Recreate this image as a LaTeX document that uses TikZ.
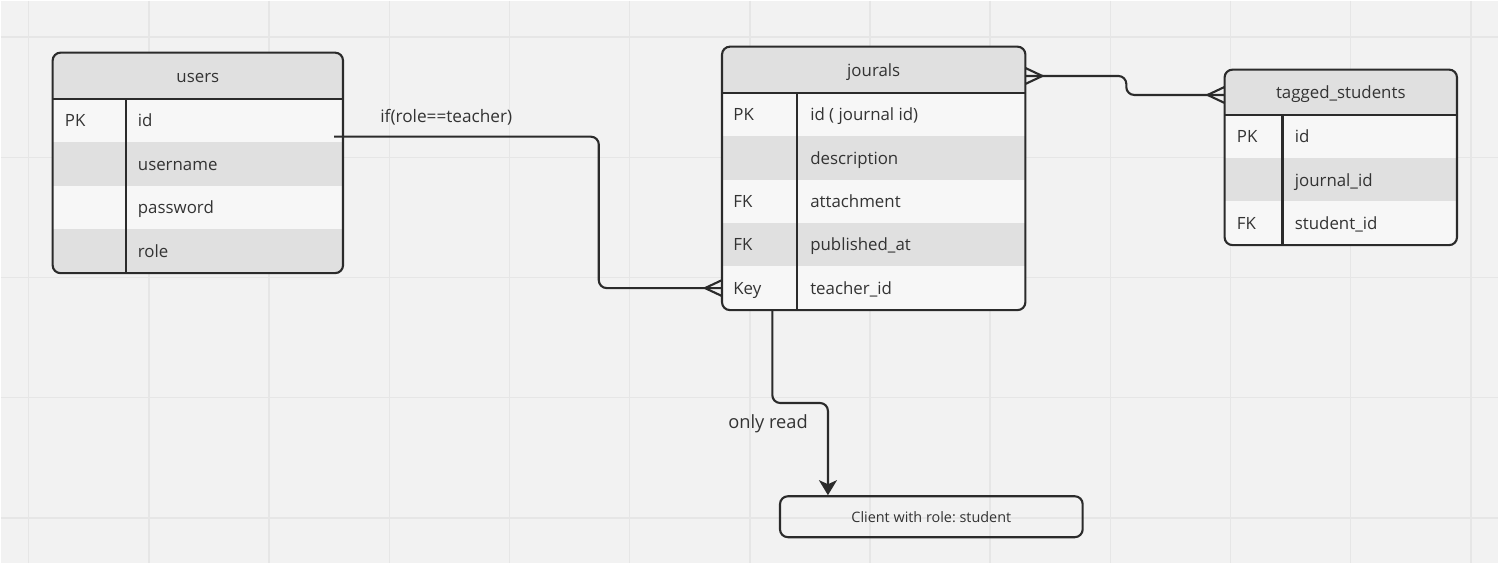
\documentclass[tikz,border=0pt]{standalone}
\usepackage{fontspec}
\setmainfont{Open Sans}
\frenchspacing
\usetikzlibrary{arrows.meta,positioning}
\definecolor{canvas}{HTML}{F2F2F2}
\definecolor{gridc}{HTML}{E6E6E6}
\definecolor{hdfill}{HTML}{E0E0E0}
\definecolor{rowl}{HTML}{F7F7F7}
\definecolor{rowd}{HTML}{E0E0E0}
\definecolor{ink}{HTML}{2B2B2B}
\definecolor{txtc}{HTML}{333333}

\begin{document}
\begin{tikzpicture}[x=0.02cm,y=-0.02cm,
	hd/.style={anchor=north west, fill=hdfill, inner sep=0pt, minimum height=0.92cm, text=txtc, font=\fontsize{9.6}{11}\selectfont, text height=1.5ex, text depth=0.1em},
	light/.style={anchor=north west, fill=rowl, inner sep=0pt, minimum height=0.87cm},
	dark/.style={light, fill=rowd},
	key/.style={inner sep=0pt, text=txtc, font=\fontsize{9.6}{11}\selectfont, text height=1.5ex, text depth=0.1em},
	field/.style={key},
	lbl/.style={inner sep=0pt, text=txtc, font=\fontsize{9.8}{11}\selectfont, text height=1.5ex, text depth=0.1em},
	border/.style={draw=ink, line width=1.2pt},
	rel/.style={draw=ink, line width=1.2pt, rounded corners=4.5pt},
	client/.style={draw=ink, line width=1.2pt, rounded corners=4.5pt, text=txtc, font=\fontsize{8.2}{10}\selectfont},
	crow/.pic={\draw[ink, line width=1.2pt] (0,-8) -- (-17,0) -- (0,8);}]
	\fill[canvas] (0,0) rectangle (1499,563);
	\foreach \i in {0,...,12} \draw[gridc, line width=0.8pt] ({28+120.3*\i},0) -- ({28+120.3*\i},563);
	\foreach \j in {0,...,4} \draw[gridc, line width=0.8pt] (0,{36.5+120.3*\j}) -- (1499,{36.5+120.3*\j});

	\begin{scope}
		\clip[rounded corners=4.5pt] (52,52) rectangle (342,272);
		\node[hd, minimum width=5.8cm] (users) at (52,52) {users};
		\node[light, minimum width=5.8cm] (users-r1) at (52,98) {};
		\node[dark, minimum width=5.8cm] (users-r2) at (52,141.5) {};
		\node[light, minimum width=5.8cm] (users-r3) at (52,185) {};
		\node[dark, minimum width=5.8cm] (users-r4) at (52,228.5) {};
	\end{scope}
	\node[key, right=0.24cm of users-r1.west] (users-k1) {PK};
	\node[field, right=1.7cm of users-r1.west] (users-f1) {id};
	\node[field, right=1.7cm of users-r2.west] (users-f2) {username};
	\node[field, right=1.7cm of users-r3.west] (users-f3) {password};
	\node[field, right=1.7cm of users-r4.west] (users-f4) {role};
	\draw[border] (users.south west) -- (users.south east);
	\draw[border] ([xshift=1.46cm]users.south west) -- ([xshift=1.46cm]users-r4.south west);
	\draw[border, rounded corners=4.5pt] (users.north west) rectangle (users-r4.south east);

	\begin{scope}
		\clip[rounded corners=4.5pt] (722,46) rectangle (1025,309);
		\node[hd, minimum width=6.06cm] (jourals) at (722,46) {jourals};
		\node[light, minimum width=6.06cm, minimum height=0.868cm] (jourals-r1) at (722,92) {};
		\node[dark, minimum width=6.06cm, minimum height=0.868cm] (jourals-r2) at (722,135.4) {};
		\node[light, minimum width=6.06cm, minimum height=0.868cm] (jourals-r3) at (722,178.8) {};
		\node[dark, minimum width=6.06cm, minimum height=0.868cm] (jourals-r4) at (722,222.2) {};
		\node[light, minimum width=6.06cm, minimum height=0.868cm] (jourals-r5) at (722,265.6) {};
	\end{scope}
	\node[key, right=0.22cm of jourals-r1.west] (jourals-k1) {PK};
	\node[key, right=0.22cm of jourals-r3.west] (jourals-k3) {FK};
	\node[key, right=0.22cm of jourals-r4.west] (jourals-k4) {FK};
	\node[key, right=0.22cm of jourals-r5.west] (jourals-k5) {Key};
	\node[field, right=1.76cm of jourals-r1.west] (jourals-f1) {id ( journal id)};
	\node[field, right=1.76cm of jourals-r2.west] (jourals-f2) {description};
	\node[field, right=1.76cm of jourals-r3.west] (jourals-f3) {attachment};
	\node[field, right=1.76cm of jourals-r4.west] (jourals-f4) {published\_at};
	\node[field, right=1.76cm of jourals-r5.west] (jourals-f5) {teacher\_id};
	\draw[border] (jourals.south west) -- (jourals.south east);
	\draw[border] ([xshift=1.5cm]jourals.south west) -- ([xshift=1.5cm]jourals-r5.south west);
	\draw[border, rounded corners=4.5pt] (jourals.north west) rectangle (jourals-r5.south east);

	\begin{scope}
		\clip[rounded corners=4.5pt] (1225,69) rectangle (1457,244);
		\node[hd, minimum width=4.64cm, minimum height=0.9cm] (tagged) at (1225,69) {tagged\_students};
		\node[light, minimum width=4.64cm, minimum height=0.867cm] (tagged-r1) at (1225,114) {};
		\node[dark, minimum width=4.64cm, minimum height=0.867cm] (tagged-r2) at (1225,157.3) {};
		\node[light, minimum width=4.64cm, minimum height=0.867cm] (tagged-r3) at (1225,200.6) {};
	\end{scope}
	\node[key, right=0.24cm of tagged-r1.west] (tagged-k1) {PK};
	\node[key, right=0.24cm of tagged-r3.west] (tagged-k3) {FK};
	\node[field, right=1.4cm of tagged-r1.west] (tagged-f1) {id};
	\node[field, right=1.4cm of tagged-r2.west] (tagged-f2) {journal\_id};
	\node[field, right=1.4cm of tagged-r3.west] (tagged-f3) {student\_id};
	\draw[border] (tagged.south west) -- (tagged.south east);
	\draw[border] ([xshift=1.16cm]tagged.south west) -- ([xshift=1.16cm]tagged-r3.south west);
	\draw[border, rounded corners=4.5pt] (tagged.north west) rectangle (tagged-r3.south east);

	\node[client, minimum width=6.06cm, minimum height=0.82cm] (student) at (931.5,516.5) {Client with role: student};

	\draw[rel] ([xshift=-0.18cm,yshift=-0.32cm]users-r1.east) -- ++(265,0) |- (jourals-r5.west);
	\pic at (jourals-r5.west) {crow};
	\node[lbl] (rolelbl) at (446,116) {if(role==teacher)};

	\draw[rel] ([yshift=-0.12cm]jourals.east) -- ++(101,0) |- ([yshift=-0.05cm]tagged.west);
	\pic[xscale=-1] at ([yshift=-0.12cm]jourals.east) {crow};
	\pic at ([yshift=-0.05cm]tagged.west) {crow};

	\draw[rel, -{Stealth[length=0.3cm,width=0.36cm,inset=0.08cm]}] ([xshift=-2.03cm]jourals-r5.south) -- ++(0,93) -| ([xshift=-2.07cm]student.north);
	\node[lbl, font=\fontsize{10.4}{12}\selectfont] (readlbl) at (768,422) {only read};
\end{tikzpicture}
\end{document}
